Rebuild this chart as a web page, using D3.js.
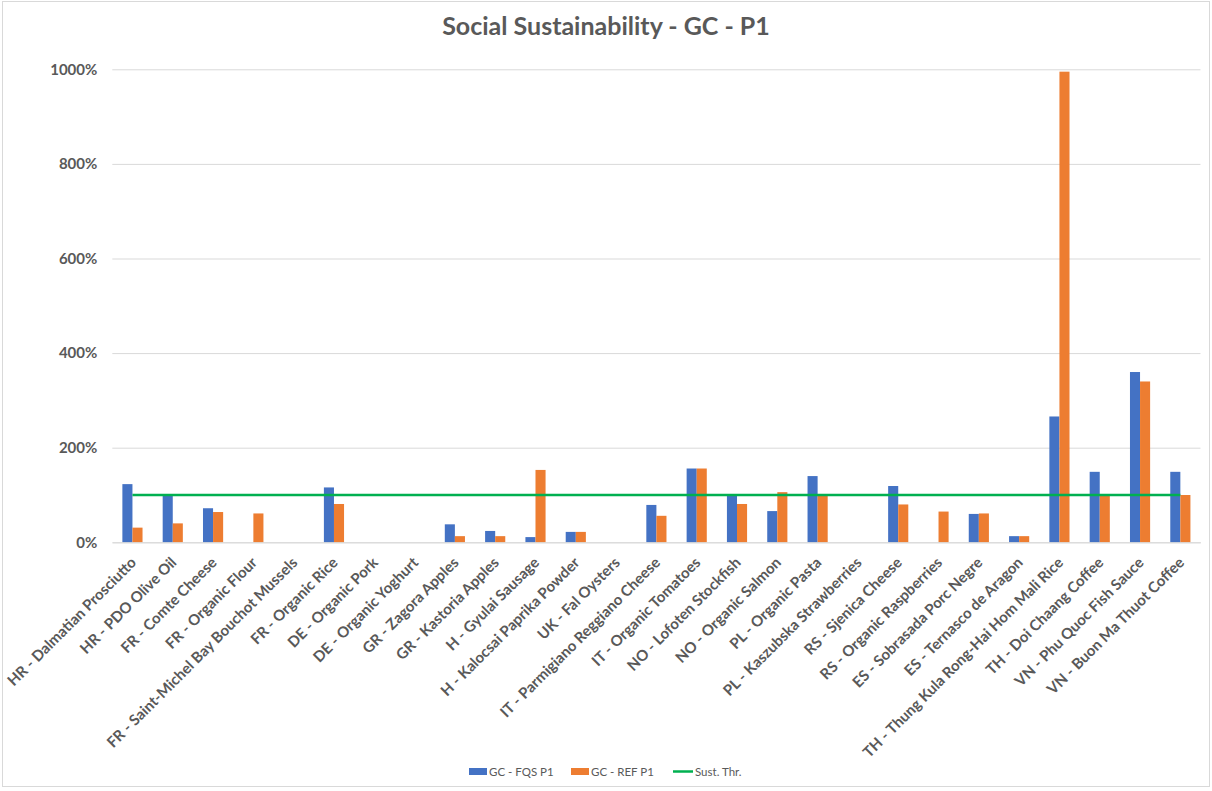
<!DOCTYPE html>
<html><head><meta charset="utf-8">
<script src="https://cdn.jsdelivr.net/npm/d3@7"></script>
<style>
html,body{margin:0;padding:0;background:#fff;}
svg{display:block;font-family:Lato,"Open Sans",sans-serif;}
</style></head>
<body>
<svg id="chart" width="1212" height="791"></svg>
<script>
const categories = [
"HR - Dalmatian Prosciutto","HR - PDO Olive Oil","FR - Comte Cheese","FR - Organic Flour",
"FR - Saint-Michel Bay Bouchot Mussels","FR - Organic Rice","DE - Organic Pork","DE - Organic Yoghurt",
"GR - Zagora Apples","GR - Kastoria Apples","H - Gyulai Sausage","H - Kalocsai Paprika Powder",
"UK - Fal Oysters","IT - Parmigiano Reggiano Cheese","IT - Organic Tomatoes","NO - Lofoten Stockfish",
"NO - Organic Salmon","PL - Organic Pasta","PL - Kaszubska Strawberries","RS - Sjenica Cheese",
"RS - Organic Raspberries","ES - Sobrasada Porc Negre","ES - Ternasco de Aragon",
"TH - Thung Kula Rong-Hai Hom Mali Rice","TH - Doi Chaang Coffee","VN - Phu Quoc Fish Sauce",
"VN - Buon Ma Thuot Coffee"];
// values in percent
const fqs = [123,101,72,null,null,116,null,null,38,24,11,22,null,79,156,100,66,140,null,119,null,60,13,266,149,360,149];
const ref = [31,40,64,61,null,81,null,null,13,13,153,22,null,56,156,81,106,100,null,80,65,61,13,995,100,340,100];
const threshold = categories.map(() => 100);
const yTicks = [0,200,400,600,800,1000];
const seriesNames = ["GC - FQS P1","GC - REF P1","Sust. Thr."];
const title = "Social Sustainability - GC - P1";

const svg = d3.select("#chart");
const W = 1212, H = 791;
const m = {left:112.3, right:1200.5, top:69.3, bottom:542.3};
const txt = "#595959";

svg.append("rect").attr("x",2.5).attr("y",1.5).attr("width",W-5).attr("height",785)
  .attr("fill","#fff").attr("stroke","#d9d9d9").attr("stroke-width",1);

const x = d3.scaleBand().domain(categories).range([m.left,m.right]).paddingInner(0.5).paddingOuter(0.25);
const y = d3.scaleLinear().domain([0,1000]).range([m.bottom,m.top]);
const sub = d3.scaleBand().domain([0,1]).range([0,x.bandwidth()]);

svg.append("text").attr("x",606).attr("y",35).attr("text-anchor","middle")
  .attr("font-size",25).attr("font-weight","bold").attr("fill",txt).text(title);

// grid
const yAxis = d3.axisLeft(y).tickValues(yTicks).tickFormat(d => d + "%")
  .tickSize(-(m.right-m.left)).tickPadding(15);
const gy = svg.append("g").attr("transform",`translate(${m.left},0)`).call(yAxis);
gy.select(".domain").remove();
gy.selectAll(".tick line").attr("stroke","#d9d9d9").attr("stroke-width",1);
gy.selectAll(".tick text").attr("font-size",15).attr("font-weight","bold").attr("fill",txt)
  .attr("font-family","Lato, sans-serif");

// bars
const series = [{vals:fqs,color:"#4472C4"},{vals:ref,color:"#ED7D31"}];
series.forEach((s,si) => {
  svg.append("g").selectAll("rect")
    .data(categories.map((c,i)=>({c,v:s.vals[i]})).filter(d=>d.v!=null))
    .join("rect")
    .attr("x",d=>x(d.c)+sub(si))
    .attr("width",sub.bandwidth())
    .attr("y",d=>y(d.v))
    .attr("height",d=>y(0)-y(d.v))
    .attr("fill",s.color);
});

// x axis line
const xAxis = d3.axisBottom(x).tickSize(0).tickFormat("");
const gx = svg.append("g").attr("transform",`translate(0,${m.bottom})`).call(xAxis);
gx.select(".domain").attr("stroke","#d9d9d9");

// threshold line
const line = d3.line().x((d,i)=>x(categories[i])+x.bandwidth()/2).y(d=>y(d));
svg.append("path").datum(threshold).attr("d",line).attr("fill","none")
  .attr("stroke","#00B050").attr("stroke-width",2.5);

// x labels
svg.append("g").selectAll("text").data(categories).join("text")
  .attr("transform",d=>`translate(${x(d)+x.bandwidth()/2+1},${m.bottom+17.5}) rotate(-45)`)
  .attr("text-anchor","end").attr("dy","0.35em")
  .attr("font-size",15).attr("font-weight","bold").attr("fill",txt).text(d=>d);

// legend
const lg = svg.append("g").attr("font-size",11.5).attr("fill",txt);
const items = [
  {name:seriesNames[0],type:"rect",color:"#4472C4",x:469},
  {name:seriesNames[1],type:"rect",color:"#ED7D31",x:571},
  {name:seriesNames[2],type:"line",color:"#00B050",x:673}];
items.forEach(it=>{
  if(it.type==="rect") lg.append("rect").attr("x",it.x).attr("y",768).attr("width",18).attr("height",7).attr("fill",it.color);
  else lg.append("line").attr("x1",it.x).attr("x2",it.x+20).attr("y1",771.5).attr("y2",771.5).attr("stroke",it.color).attr("stroke-width",2.5);
  lg.append("text").attr("x",it.x+(it.type==="rect"?20:22)).attr("y",775.5).text(it.name);
});
</script>
</body></html>
